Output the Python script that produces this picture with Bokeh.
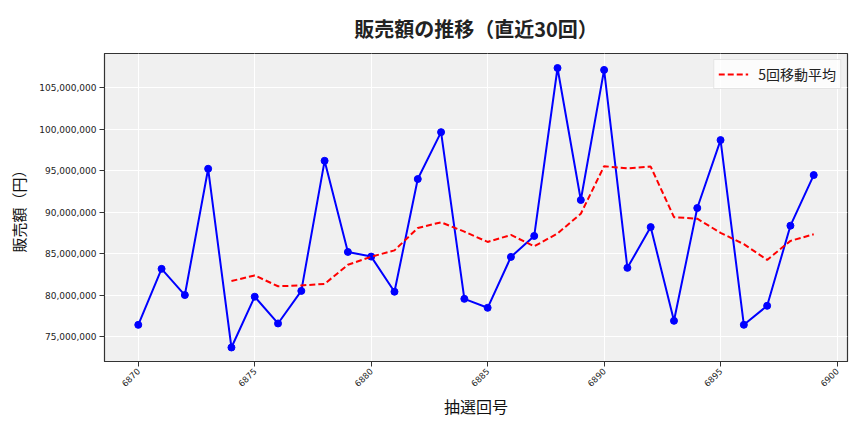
import math
from bokeh.plotting import figure
from bokeh.layouts import row
from bokeh.models import Range1d, NumeralTickFormatter, FixedTicker, Legend, LegendItem, Spacer
from bokeh.embed import file_html
from bokeh.resources import INLINE

draws = list(range(6870, 6900))
sales = [76.4e6, 83.16e6, 80.0e6, 95.24e6, 73.67e6, 79.8e6, 76.57e6, 80.5e6, 96.2e6, 85.2e6,
         84.64e6, 80.4e6, 94.0e6, 99.66e6, 79.54e6, 78.46e6, 84.6e6, 87.13e6, 107.4e6, 91.47e6,
         107.17e6, 83.28e6, 88.2e6, 76.89e6, 90.5e6, 98.7e6, 76.41e6, 78.7e6, 88.37e6, 94.48e6]
ma_draws = list(range(6874, 6900))
ma5 = [81.69e6, 82.37e6, 81.06e6, 81.16e6, 81.35e6, 83.65e6, 84.62e6, 85.39e6, 88.09e6, 88.78e6,
       87.65e6, 86.41e6, 87.25e6, 85.88e6, 87.43e6, 89.81e6, 95.55e6, 95.29e6, 95.50e6, 89.40e6,
       89.21e6, 87.51e6, 86.14e6, 84.24e6, 86.54e6, 87.33e6]
x_ticks = [6870, 6875, 6880, 6885, 6890, 6895, 6900]
title_text = "販売額の推移（直近30回）"
x_label = "抽選回号"
y_label = "販売額（円）"
legend_label = "5回移動平均"

JP = "Noto Sans CJK JP"
TICK = "DejaVu Sans"

p = figure(frame_width=743, frame_height=308, output_backend="svg", toolbar_location=None,
           x_range=Range1d(6868.55, 6900.45), y_range=Range1d(71.98e6, 109.15e6),
           min_border_left=92, min_border_right=8, min_border_top=44, min_border_bottom=64)

p.title.text = title_text
p.title.align = "center"
p.title.text_font = JP
p.title.text_font_size = "20px"
p.title.text_font_style = "bold"
p.title.text_color = "#222222"
p.title.text_line_height = 0.8
p.title.standoff = 22

p.background_fill_color = "#f0f0f0"
p.border_fill_color = "white"
p.outline_line_color = "#333333"
p.outline_line_width = 1.2

p.xgrid.grid_line_color = "white"
p.ygrid.grid_line_color = "white"
p.xgrid.grid_line_width = 1
p.ygrid.grid_line_width = 1

p.xaxis.ticker = FixedTicker(ticks=x_ticks)
p.xaxis.major_label_orientation = math.pi / 4
p.yaxis.formatter = NumeralTickFormatter(format="0,0")
for ax in (p.xaxis, p.yaxis):
    ax.major_label_text_font = TICK
    ax.major_label_text_color = "#222222"
    ax.axis_line_color = "#333333"
    ax.major_tick_line_color = "#333333"
    ax.major_tick_out = 5
    ax.major_tick_in = 0
    ax.minor_tick_line_color = None
    ax.axis_label_text_font = JP
    ax.axis_label_text_font_style = "normal"
    ax.axis_label_text_color = "#111111"
p.xaxis.axis_label_text_font_size = "16px"
p.yaxis.axis_label_text_font_size = "15px"
p.xaxis.major_label_text_font_size = "8.5px"
p.yaxis.major_label_text_font_size = "9px"
p.yaxis.major_label_standoff = 3
p.xaxis.major_label_standoff = 3
p.xaxis.axis_label = x_label
p.yaxis.axis_label = y_label
p.xaxis.axis_label_standoff = 1
p.yaxis.axis_label_standoff = 7

p.line(draws, sales, line_color="blue", line_width=2)
p.scatter(draws, sales, size=7, fill_color="blue", line_color="blue")
ma_line = p.line(ma_draws, ma5, line_color="red", line_width=2, line_dash="6 3")

legend = Legend(items=[LegendItem(label=legend_label, renderers=[ma_line])],
                location="top_right")
legend.label_text_font = JP
legend.label_text_font_size = "14px"
legend.label_text_color = "#222222"
legend.glyph_width = 30
legend.glyph_height = 16
legend.label_height = 16
legend.label_standoff = 10
legend.padding = 4
legend.margin = 6
legend.border_line_color = "#cccccc"
legend.background_fill_color = "white"
legend.background_fill_alpha = 0.8
p.add_layout(legend)

layout = row(Spacer(width=5, height=10), p)
open("out.html", "w").write(file_html(layout, INLINE))
